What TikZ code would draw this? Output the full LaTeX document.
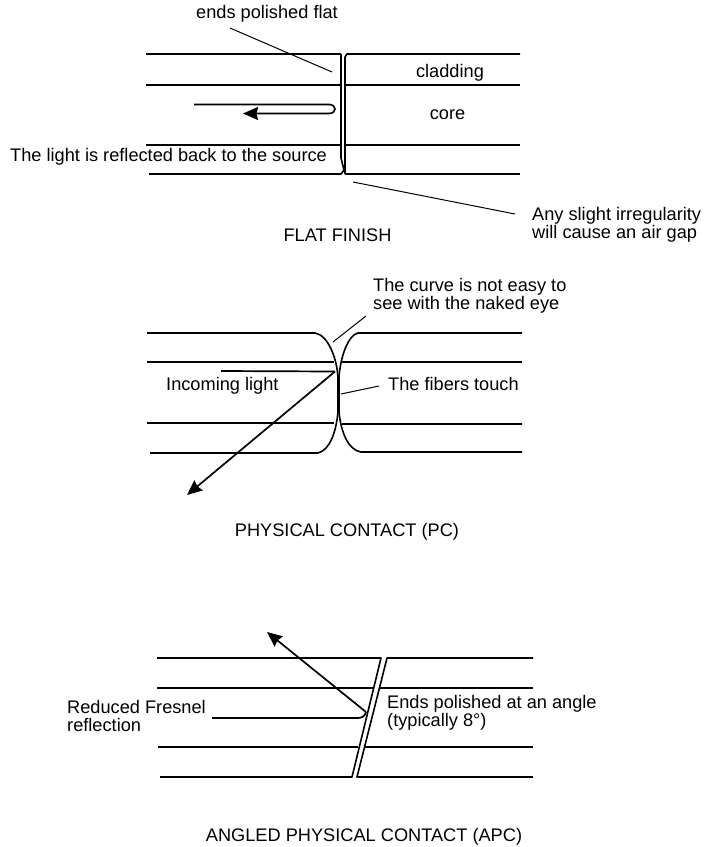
\documentclass[tikz,border=0pt]{standalone}
\usepackage{fontspec}
\setmainfont{Liberation Sans}
\usetikzlibrary{arrows.meta}
\tikzset{
  fib/.style={line width=1.6pt,black,line join=round},
  lead/.style={line width=1pt,black},
  ray/.style={line width=1.7pt,black},
  raya/.style={ray,-{Stealth[length=15pt,width=13pt,inset=1.5pt]}},
  lab/.style={font=\fontsize{18.2}{18.4}\selectfont,inner sep=0pt,text=black},
  labl/.style={lab,anchor=west,align=left},
  labc/.style={lab,anchor=center,align=center},
}
\begin{document}
\begin{tikzpicture}[x=1pt,y=-1pt]
\useasboundingbox[fill=white] (0,0) rectangle (706,847);
% --- flat finish
\foreach \y/\xa/\xb in {54/146/341,85/146/340,145/146/341}
  \draw[fib] (\xa,\y) -- (\xb,\y);
\draw[fib] (149,174) -- (341,174) -- (344,170) -- (341,158) -- (341,54);
\draw[fib] (345,174) -- (345,57) -- (347,54) -- (520,54);
\foreach \y in {85,145,174} \draw[fib] (345,\y) -- (520,\y);
\coordinate (ra) at (194,104.5);
\coordinate (rb) at (243,113.5);
\draw[ray] (ra) -- (329,104.5) .. controls (337,104.5) and (337,113.5) .. (329,113.5) -- (256,113.5);
\draw[raya] (260,113.5) -- (rb);
\node[labc] (t1) at (267,14) {ends polished flat};
\node[labc] (t2) at (450,73) {cladding};
\node[labc] (t3) at (447.5,115) {core};
\node[labl] (t4) at (10,157) {The light is reflected back to the source};
\node[labl] (t5) at (532,224.5) {Any slight irregularity\\will cause an air gap};
\node[labc] (t6) at (337.5,235) {FLAT FINISH};
\coordinate (l1a) at (230,28); \coordinate (l1b) at (332,72);
\coordinate (l2a) at (353,182); \coordinate (l2b) at (515,214);
\draw[lead] (l1a) -- (l1b);
\draw[lead] (l2a) -- (l2b);
% --- physical contact
\draw[fib] (147,333) -- (315,333) .. controls (328,335) and (337,358) .. (338,378)
  -- (338,412) .. controls (336,432) and (330,450) .. (318,453) -- (150,453);
\draw[fib] (522,333) -- (358,333) .. controls (348,335) and (340,358) .. (339,378)
  -- (339,412) .. controls (341,432) and (348,450) .. (361,452) -- (522,452);
\draw[fib] (147,362) -- (334,362);
\draw[fib] (147,423) -- (334,423);
\draw[fib] (342,362) -- (522,362);
\draw[fib] (342,424) -- (522,424);
\coordinate (rc) at (221,371);
\coordinate (rd) at (335,371.5);
\coordinate (re) at (187,495);
\draw[ray] (rc) -- (rd);
\draw[raya] (rd) -- (re);
\node[labl] (t7) at (373,296) {The curve is not easy to\\see with the naked eye};
\node[labl] (t8) at (166,386) {Incoming light};
\node[labl] (t9) at (388,384) {The fibers touch};
\node[labc] (t10) at (347,532) {PHYSICAL CONTACT (PC)};
\coordinate (l3a) at (333,342); \coordinate (l3b) at (366,316);
\coordinate (l4a) at (341,394); \coordinate (l4b) at (379,386);
\draw[lead] (l3a) -- (l3b);
\draw[lead] (l4a) -- (l4b);
% --- angled
\draw[fib] (157,658) -- (381,658) -- (352,777) -- (160,777);
\draw[fib] (533,658) -- (387,658) -- (357,777) -- (533,777);
\draw[fib] (157,688) -- (373,688);
\draw[fib] (380,688) -- (533,688);
\draw[fib] (158,747) -- (358,747);
\draw[fib] (365,747) -- (533,747);
\coordinate (rf) at (212,718);
\coordinate (rg) at (366,712);
\coordinate (rh) at (267,632);
\draw[ray] (rf) -- (358,718) .. controls (362,718) and (365,716) .. (rg);
\draw[raya] (rg) -- (rh);
\node[labl] (t11) at (67,716) {Reduced Fresnel\\reflection};
\node[labl] (t12) at (387,712.5) {Ends polished at an angle\\(typically 8°)};
\node[labc] (t13) at (364,837) {ANGLED PHYSICAL CONTACT (APC)};
\end{tikzpicture}
\end{document}
